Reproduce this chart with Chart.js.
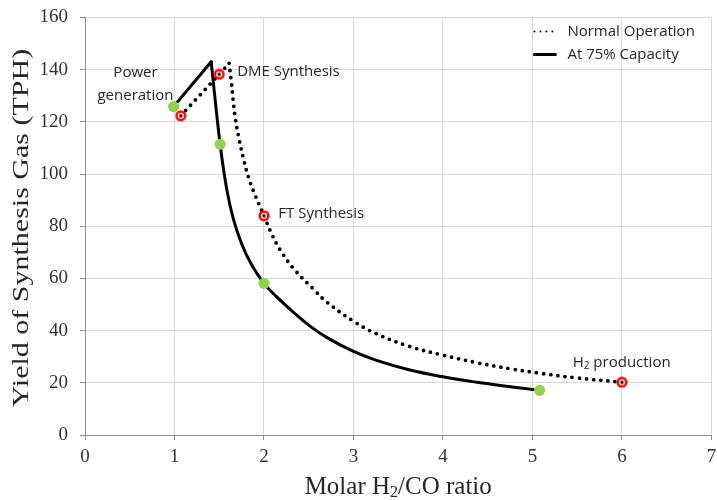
<!DOCTYPE html>
<html>
<head>
<meta charset="utf-8">
<script src="https://cdn.jsdelivr.net/npm/chart.js@4"></script>
<style>
  body { margin: 0; background: #fff; }
</style>
</head>
<body>
<canvas id="chart" width="717" height="500"></canvas>
<script>
// series labels
const seriesLabels = ['Normal Operation', 'At 75% Capacity'];

// At 75% capacity (solid): rising leg, then the falling curve
const solidRiseX = [0.99, 1.41];
const solidRiseY = [125.8, 143.0];
const solidFallX = [1.41, 1.51, 1.585, 1.66, 1.75, 1.86, 2.0, 2.14, 2.33, 2.51, 2.70, 3.0, 3.25, 3.62, 4.0, 4.38, 4.75, 5.08];
const solidFallY = [143.0, 111.4, 94.0, 82.5, 73.3, 65.3, 58.1, 53.0, 47.0, 41.8, 37.4, 32.0, 28.7, 25.0, 22.3, 20.2, 18.5, 17.1];

// Normal operation (dotted)
const normalRiseX = [1.07, 1.5, 1.61];
const normalRiseY = [122.3, 138.2, 142.4];
const normalFallX = [1.61, 1.635, 1.655, 1.68, 1.72, 1.77, 1.83, 1.90, 2.0, 2.08, 2.18, 2.33, 2.55, 2.70, 3.0, 3.25, 3.62, 4.0, 4.38, 4.75, 5.12, 5.49, 6.0];
const normalFallY = [142.4, 135.4, 128.5, 121.3, 113.7, 106.0, 98.4, 92.0, 84.0, 77.5, 71.0, 63.8, 56.0, 51.0, 43.6, 38.9, 34.0, 30.6, 27.7, 25.4, 23.5, 21.9, 20.2];

// marked process points
const capacityPtsX = [0.99, 1.51, 2.0, 5.08];
const capacityPtsY = [125.8, 111.4, 58.1, 17.1];
const normalPtsX = [1.07, 1.5, 2.0, 6.0];
const normalPtsY = [122.3, 138.2, 84.0, 20.2];

// axes
const xTicks = [0, 1, 2, 3, 4, 5, 6, 7];
const yTicks = [0, 20, 40, 60, 80, 100, 120, 140, 160];
const xTitle = 'Molar H₂/CO ratio';
const yTitle = 'Yield of Synthesis Gas (TPH)';

// process labels (text only)
const processLabels = [['Power', 'generation'], ['DME Synthesis'], ['FT Synthesis'], ['H₂ production']];
// where each label sits (data coords of first line) + alignment
const labelSpots = [
  { x: 0.564, y: 138.7, align: 'center' },
  { x: 1.70, y: 139.1, align: 'left' },
  { x: 2.16, y: 84.9, align: 'left' },
  { x: 5.45, y: 27.6, align: 'left' }
];

const toPts = (xs, ys) => xs.map((v, i) => ({ x: v, y: ys[i] }));

const SERIF = '"Liberation Serif", serif';
const SANS = '"Open Sans", sans-serif';
const TEXT = '#262626';

// red ring with black centre for the normal-operation points
function ringMarker() {
  const c = document.createElement('canvas');
  c.width = 12; c.height = 12;
  const g = c.getContext('2d');
  g.beginPath(); g.arc(6, 6, 4.3, 0, Math.PI * 2);
  g.fillStyle = '#fff'; g.fill();
  g.lineWidth = 2.5; g.strokeStyle = '#ff0000'; g.stroke();
  g.beginPath(); g.arc(6, 6, 1.7, 0, Math.PI * 2);
  g.fillStyle = '#000'; g.fill();
  return c;
}

// text with a subscript 2
function drawRich(ctx, text, x, y, size, family, align) {
  const big = size + 'px ' + family;
  const small = Math.round(size * 0.65) + 'px ' + family;
  const pieces = [];
  text.split('₂').forEach((p, i) => {
    if (i > 0) pieces.push({ t: '2', f: small, dy: size * 0.22 });
    if (p) pieces.push({ t: p, f: big, dy: 0 });
  });
  let w = 0;
  pieces.forEach(pc => { ctx.font = pc.f; pc.w = ctx.measureText(pc.t).width; w += pc.w; });
  let cx = align === 'center' ? x - w / 2 : x;
  ctx.textAlign = 'left';
  pieces.forEach(pc => { ctx.font = pc.f; ctx.fillText(pc.t, cx, y + pc.dy); cx += pc.w; });
}

const dotted = { borderColor: '#000', borderWidth: 3.8, borderDash: [0, 7.2], borderCapStyle: 'round' };
const solid = { borderColor: '#000', borderWidth: 3, borderCapStyle: 'round', borderJoinStyle: 'round' };

const extras = {
  id: 'extras',
  afterDatasetsDraw(chart) {
    const { ctx, chartArea, scales: { x, y } } = chart;
    ctx.save();
    ctx.fillStyle = TEXT;
    ctx.textBaseline = 'middle';

    // process labels
    processLabels.forEach((lines, i) => {
      const s = labelSpots[i];
      const px = x.getPixelForValue(s.x);
      const py = y.getPixelForValue(s.y);
      lines.forEach((ln, j) => drawRich(ctx, ln, px, py + j * 23, 15, SANS, s.align));
    });

    // legend, top right inside plot
    const lx = chartArea.right - 178;
    const rows = [chartArea.top + 14, chartArea.top + 37];
    [dotted, solid].forEach((st, i) => {
      ctx.save();
      ctx.beginPath();
      ctx.strokeStyle = st.borderColor;
      ctx.lineCap = st.borderCapStyle;
      if (i === 0) { ctx.lineWidth = 2; ctx.setLineDash([0, 6]); }
      else { ctx.lineWidth = st.borderWidth; }
      ctx.moveTo(lx + 1, rows[i]);
      ctx.lineTo(lx + 22, rows[i]);
      ctx.stroke();
      ctx.restore();
      ctx.fillStyle = TEXT;
      drawRich(ctx, seriesLabels[i], lx + 34, rows[i], 15, SANS, 'left');
    });

    // axis titles
    drawRich(ctx, xTitle, (chartArea.left + chartArea.right) / 2, 487, 25, SERIF, 'center');
    ctx.translate(22, 228);
    ctx.rotate(-Math.PI / 2);
    ctx.scale(1.25, 1);
    drawRich(ctx, yTitle, 0, 0, 24, SERIF, 'center');
    ctx.restore();
  }
};

const redRing = ringMarker();

new Chart(document.getElementById('chart'), {
  type: 'scatter',
  data: {
    datasets: [
      { label: 'capacity points', data: toPts(capacityPtsX, capacityPtsY), pointRadius: 5.6, pointBackgroundColor: '#92d050', pointBorderWidth: 0, order: 0 },
      { label: 'normal points', data: toPts(normalPtsX, normalPtsY), pointStyle: redRing, order: 0 },
      Object.assign({ label: seriesLabels[1], data: toPts(solidRiseX, solidRiseY), showLine: true, pointRadius: 0, tension: 0, order: 1 }, solid),
      Object.assign({ label: seriesLabels[1], data: toPts(solidFallX, solidFallY), showLine: true, pointRadius: 0, tension: 0.4, order: 1 }, solid),
      Object.assign({ label: seriesLabels[0], data: toPts(normalRiseX, normalRiseY), showLine: true, pointRadius: 0, tension: 0, order: 1 }, dotted),
      Object.assign({ label: seriesLabels[0], data: toPts(normalFallX, normalFallY), showLine: true, pointRadius: 0, tension: 0.4, order: 1 }, dotted)
    ]
  },
  options: {
    responsive: false,
    animation: false,
    layout: { padding: { top: 17.4, right: 5.5, left: 0, bottom: 0 } },
    plugins: { legend: { display: false }, tooltip: { enabled: false } },
    scales: {
      x: {
        type: 'linear', min: 0, max: 7,
        afterBuildTicks: s => { s.ticks = xTicks.map(v => ({ value: v })); },
        afterFit: s => { s.height = 65; s.paddingLeft = 0; s.paddingRight = 0; },
        ticks: { font: { family: SERIF, size: 19 }, color: '#333', padding: 6 },
        grid: { color: '#d9d9d9', tickColor: '#8c8c8c', tickLength: 5 },
        border: { color: '#8c8c8c' }
      },
      y: {
        type: 'linear', min: 0, max: 160,
        afterBuildTicks: s => { s.ticks = yTicks.map(v => ({ value: v })); },
        afterFit: s => { s.width = 85; s.paddingTop = 0; s.paddingBottom = 0; },
        ticks: { font: { family: SERIF, size: 19 }, color: '#333', padding: 12 },
        grid: { color: '#d9d9d9', tickColor: '#8c8c8c', tickLength: 5 },
        border: { color: '#8c8c8c' }
      }
    }
  },
  plugins: [extras]
});
</script>
</body>
</html>
